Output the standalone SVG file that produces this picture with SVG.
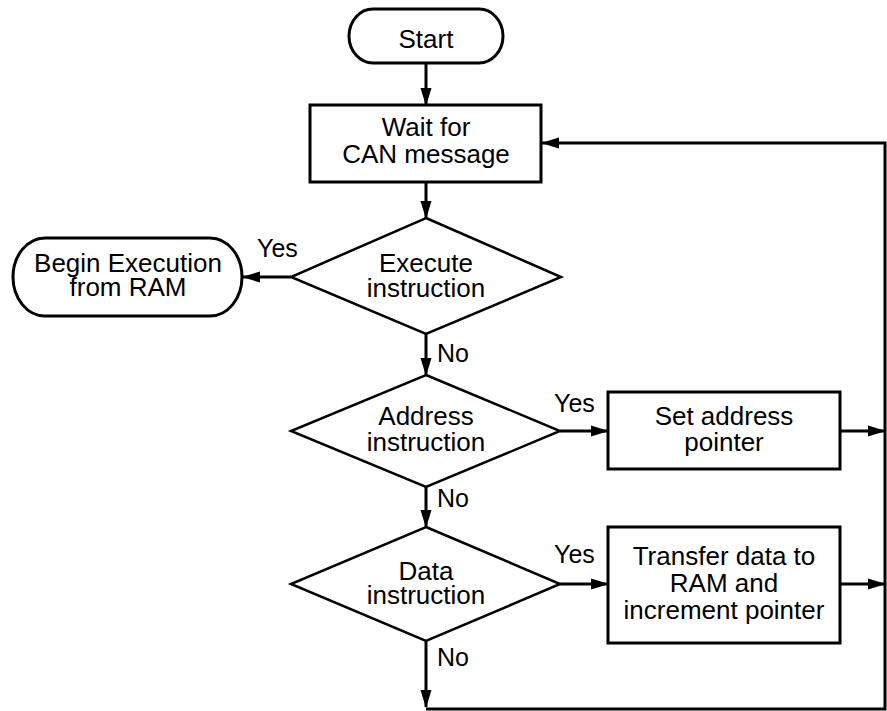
<svg xmlns="http://www.w3.org/2000/svg" width="887" height="711" viewBox="0 0 887 711">
<style>
.s{fill:#fff;stroke:#000;stroke-width:3}
.d{fill:#fff;stroke:#000;stroke-width:2.5}
.t{font-family:"Liberation Sans",Arial,sans-serif;font-size:26px;fill:#000;text-anchor:middle}
.l{font-family:"Liberation Sans",Arial,sans-serif;font-size:25px;fill:#000}
.c{fill:none;stroke:#000;stroke-width:3}
</style>
<defs>
<marker id="a" markerUnits="userSpaceOnUse" markerWidth="18" markerHeight="12" refX="17" refY="6" orient="auto">
<path d="M0,0.5 L18,6 L0,11.5 Z" fill="#000"/>
</marker>
</defs>
<rect width="887" height="711" fill="#fff"/>
<g id="connectors">
<line class="c" x1="426" y1="63" x2="426" y2="105" marker-end="url(#a)"/>
<line class="c" x1="426" y1="182" x2="426" y2="218" marker-end="url(#a)"/>
<line class="c" x1="291" y1="277" x2="243" y2="277" marker-end="url(#a)"/>
<line class="c" x1="426" y1="334" x2="426" y2="375" marker-end="url(#a)"/>
<line class="c" x1="560" y1="431" x2="608" y2="431" marker-end="url(#a)"/>
<line class="c" x1="426" y1="487" x2="426" y2="527" marker-end="url(#a)"/>
<line class="c" x1="560" y1="584" x2="608" y2="584" marker-end="url(#a)"/>
<line class="c" x1="426" y1="641" x2="426" y2="707" marker-end="url(#a)"/>
<polyline class="c" points="426,709 885,709 885,143 542,143" marker-end="url(#a)"/>
<line class="c" x1="840" y1="431" x2="885" y2="431" marker-end="url(#a)"/>
<line class="c" x1="840" y1="584" x2="885" y2="584" marker-end="url(#a)"/>
</g>
<g id="start">
<rect class="s" x="349" y="9" width="154" height="54" rx="24" ry="27"/>
<text class="t" x="426" y="48">Start</text>
</g>
<g id="wait">
<rect class="s" x="310" y="105" width="231" height="77"/>
<text class="t" x="426" y="136">Wait for</text>
<text class="t" x="426" y="163">CAN message</text>
</g>
<g id="execute">
<polygon class="d" points="426,218 561,277 426,334 291,277"/>
<text class="t" x="426" y="272">Execute</text>
<text class="t" x="426" y="297">instruction</text>
</g>
<g id="begin">
<rect class="s" x="13" y="238" width="229" height="78" rx="32" ry="39"/>
<text class="t" x="128" y="272">Begin Execution</text>
<text class="t" x="128" y="296">from RAM</text>
</g>
<g id="address">
<polygon class="d" points="426,375 560,431 426,487 291,431"/>
<text class="t" x="426" y="425">Address</text>
<text class="t" x="426" y="451">instruction</text>
</g>
<g id="setaddr">
<rect class="s" x="608" y="392" width="232" height="77"/>
<text class="t" x="724" y="425">Set address</text>
<text class="t" x="724" y="451">pointer</text>
</g>
<g id="data">
<polygon class="d" points="426,527 560,584 426,641 291,584"/>
<text class="t" x="426" y="580">Data</text>
<text class="t" x="426" y="604">instruction</text>
</g>
<g id="transfer">
<rect class="s" x="608" y="527" width="232" height="116"/>
<text class="t" x="724" y="565">Transfer data to</text>
<text class="t" x="724" y="592">RAM and</text>
<text class="t" x="724" y="619">increment pointer</text>
</g>
<g id="labels">
<text class="l" x="257" y="257">Yes</text>
<text class="l" x="437" y="362">No</text>
<text class="l" x="554" y="412">Yes</text>
<text class="l" x="437" y="507">No</text>
<text class="l" x="554" y="563">Yes</text>
<text class="l" x="437" y="666">No</text>
</g>
</svg>
